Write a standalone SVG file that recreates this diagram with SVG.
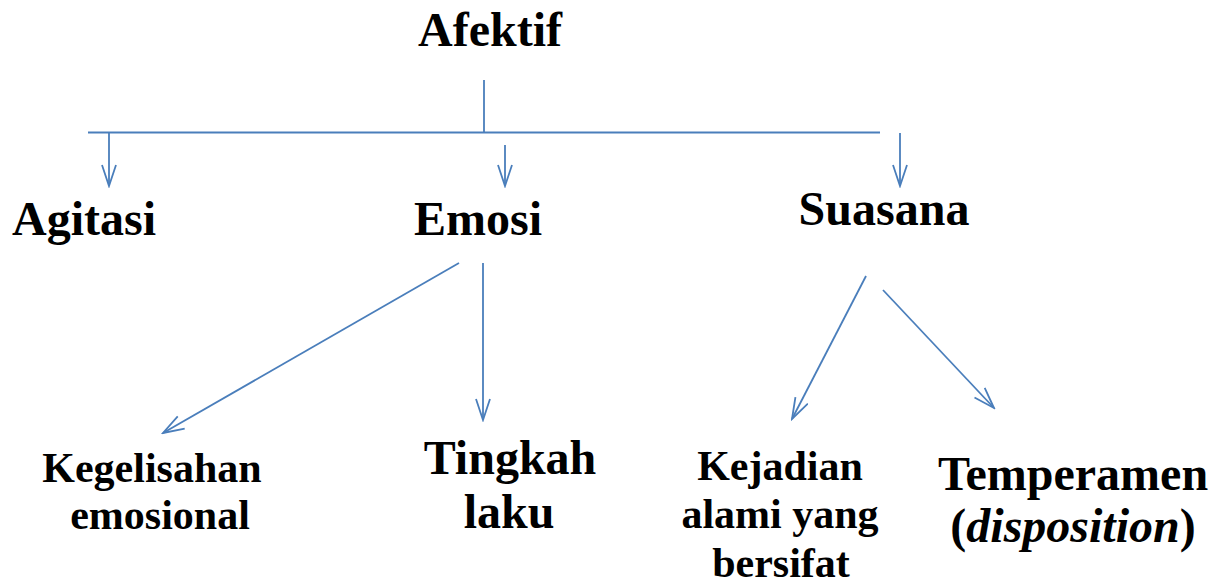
<svg xmlns="http://www.w3.org/2000/svg" width="1216" height="584" viewBox="0 0 1216 584">
<style>
text{font-family:"Liberation Serif","Times New Roman",serif;font-weight:bold;fill:#000;text-anchor:middle}
.l{font-size:48px}
.m{font-size:42px}
.c{stroke:#4a7ebb;stroke-width:1.8;fill:none}
</style>
<defs>
<marker id="ah" viewBox="0 0 24 16" refX="22" refY="8" markerWidth="24" markerHeight="16" markerUnits="userSpaceOnUse" orient="auto">
<path d="M1,1 L22,8 L1,15" fill="none" stroke="#4a7ebb" stroke-width="1.8"/>
</marker>
</defs>
<rect width="1216" height="584" fill="#fff"/>
<g id="connectors">
<line class="c" x1="484" y1="80" x2="484" y2="133"/>
<line class="c" x1="88" y1="132.5" x2="880" y2="132.5"/>
<line class="c" x1="109" y1="132.5" x2="109" y2="186" marker-end="url(#ah)"/>
<line class="c" x1="505" y1="145" x2="505" y2="186" marker-end="url(#ah)"/>
<line class="c" x1="900" y1="133" x2="900" y2="186" marker-end="url(#ah)"/>
<line class="c" x1="459" y1="263" x2="163" y2="433" marker-end="url(#ah)"/>
<line class="c" x1="483" y1="263" x2="483" y2="420" marker-end="url(#ah)"/>
<line class="c" x1="866" y1="276" x2="792" y2="419" marker-end="url(#ah)"/>
<line class="c" x1="883" y1="290" x2="994" y2="408" marker-end="url(#ah)"/>
</g>
<g id="afektif"><text class="l" x="490" y="46">Afektif</text></g>
<g id="agitasi"><text class="l" x="84" y="235">Agitasi</text></g>
<g id="emosi"><text class="l" x="478" y="235">Emosi</text></g>
<g id="suasana"><text class="l" x="884" y="225">Suasana</text></g>
<g id="kegelisahan"><text class="m" x="152" y="482">Kegelisahan</text><text class="m" x="160" y="529">emosional</text></g>
<g id="tingkah"><text class="l" x="510" y="474">Tingkah</text><text class="l" x="509" y="528">laku</text></g>
<g id="kejadian"><text class="m" x="780" y="480">Kejadian</text><text class="m" x="780" y="528">alami yang</text><text class="m" x="781" y="577">bersifat</text></g>
<g id="temperamen"><text class="l" x="1073" y="490">Temperamen</text><text class="l" x="1073" y="542">(<tspan font-style="italic">disposition</tspan>)</text></g>
</svg>
